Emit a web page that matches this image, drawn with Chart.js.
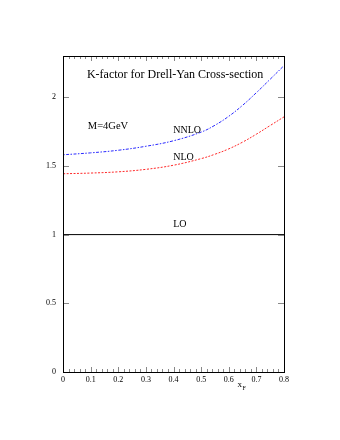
<!DOCTYPE html>
<html>
<head>
<meta charset="utf-8">
<script src="https://cdn.jsdelivr.net/npm/chart.js@4"></script>
<style>
  html, body { margin: 0; padding: 0; background: #fff; }
  #wrap { width: 340px; height: 440px; }
</style>
</head>
<body>
<div id="wrap"><canvas id="kfactor" width="340" height="440"></canvas></div>
<script>
// valores
const xF = [0, 0.1, 0.2, 0.3, 0.4, 0.5, 0.55, 0.6, 0.65, 0.7, 0.75, 0.8];
const kNNLO = [1.581, 1.595, 1.614, 1.643, 1.683, 1.746, 1.796, 1.861, 1.941, 2.033, 2.131, 2.23];
const kNLO = [1.443, 1.448, 1.457, 1.475, 1.505, 1.553, 1.585, 1.624, 1.673, 1.731, 1.794, 1.857];
const xLO = [0, 0.8];
const kLO = [1, 1];

const xTicks = [0, 0.1, 0.2, 0.3, 0.4, 0.5, 0.6, 0.7, 0.8];
const yTicks = [0, 0.5, 1, 1.5, 2];

const serif = "'Liberation Serif', 'DejaVu Serif', serif";

const toPts = (xs, ys) => xs.map((x, i) => ({ x: x, y: ys[i] }));

// textos dentro del grafico (coordenadas en unidades de datos)
const notas = [
  { text: "K-factor for Drell-Yan Cross-section", x: 0.406, y: 2.163, align: "center", size: 12 },
  { text: "M=4GeV", x: 0.09, y: 1.79, align: "left", size: 10.5 },
  { text: "NNLO", x: 0.399, y: 1.757, align: "left", size: 10 },
  { text: "NLO", x: 0.399, y: 1.562, align: "left", size: 10 },
  { text: "LO", x: 0.399, y: 1.076, align: "left", size: 10 },
];

const marcoPlugin = {
  id: "marco",
  afterDatasetsDraw(chart) {
    const { ctx, chartArea: a, scales } = chart;
    const sx = scales.x, sy = scales.y;
    ctx.save();
    // ticks del eje x (abajo y arriba), hacia adentro
    ctx.strokeStyle = "#888";
    ctx.lineWidth = 1;
    for (let i = 0; i <= 40; i++) {
      const v = i * 0.02;
      const px = Math.round(sx.getPixelForValue(v)) + 0.5;
      const len = i % 5 === 0 ? 5 : 3;
      ctx.beginPath();
      ctx.moveTo(px, a.bottom);
      ctx.lineTo(px, a.bottom - len);
      ctx.moveTo(px, a.top);
      ctx.lineTo(px, a.top + len);
      ctx.stroke();
    }
    // ticks del eje y (izquierda y derecha)
    yTicks.forEach((v) => {
      const py = Math.round(sy.getPixelForValue(v)) + 0.5;
      ctx.beginPath();
      ctx.moveTo(a.left, py);
      ctx.lineTo(a.left + 6, py);
      ctx.moveTo(a.right, py);
      ctx.lineTo(a.right - 6, py);
      ctx.stroke();
    });
    // marco
    ctx.strokeStyle = "#000";
    ctx.strokeRect(Math.round(a.left) + 0.5, Math.round(a.top) + 0.5,
      Math.round(a.right - a.left), Math.round(a.bottom - a.top));
    // textos
    ctx.fillStyle = "#000";
    ctx.textBaseline = "middle";
    notas.forEach((n) => {
      ctx.font = n.size + "px " + serif;
      ctx.textAlign = n.align;
      ctx.fillText(n.text, sx.getPixelForValue(n.x), sy.getPixelForValue(n.y));
    });
    // etiqueta x_F
    const lx = sx.getPixelForValue(0.632);
    const ly = a.bottom + 13;
    ctx.textAlign = "left";
    ctx.font = "9px " + serif;
    ctx.fillText("x", lx, ly);
    ctx.font = "6px " + serif;
    ctx.fillText("F", lx + 5, ly + 3);
    ctx.restore();
  },
};

new Chart(document.getElementById("kfactor"), {
  type: "line",
  data: {
    datasets: [
      {
        label: "NNLO",
        data: toPts(xF, kNNLO),
        borderColor: "rgba(40,40,255,1)",
        borderWidth: 1,
        borderDash: [1.5, 1.5, 3, 1.5],
        pointRadius: 0,
        tension: 0.4,
      },
      {
        label: "NLO",
        data: toPts(xF, kNLO),
        borderColor: "rgba(255,40,40,1)",
        borderWidth: 1,
        borderDash: [2, 1.5],
        pointRadius: 0,
        tension: 0.4,
      },
      {
        label: "LO",
        data: toPts(xLO, kLO),
        borderColor: "#000",
        borderWidth: 1,
        pointRadius: 0,
      },
    ],
  },
  plugins: [marcoPlugin],
  options: {
    responsive: false,
    animation: false,
    layout: { padding: { left: 0, right: 56, top: 56, bottom: 48 } },
    plugins: { legend: { display: false }, tooltip: { enabled: false } },
    scales: {
      x: {
        type: "linear",
        min: 0,
        max: 0.8,
        afterBuildTicks: (s) => { s.ticks = xTicks.map((v) => ({ value: v })); },
        afterFit: (s) => { s.height = 20; },
        grid: { display: false, drawTicks: false },
        border: { display: false },
        ticks: {
          color: "#000",
          padding: 3,
          maxRotation: 0,
          font: { family: serif, size: 8 },
          callback: (v) => String(v),
        },
      },
      y: {
        type: "linear",
        min: 0,
        max: 2.3,
        afterBuildTicks: (s) => { s.ticks = yTicks.map((v) => ({ value: v })); },
        afterFit: (s) => { s.width = 63; },
        grid: { display: false, drawTicks: false },
        border: { display: false },
        ticks: {
          color: "#000",
          padding: 7,
          font: { family: serif, size: 8 },
          callback: (v) => String(v),
        },
      },
    },
  },
});
</script>
</body>
</html>
